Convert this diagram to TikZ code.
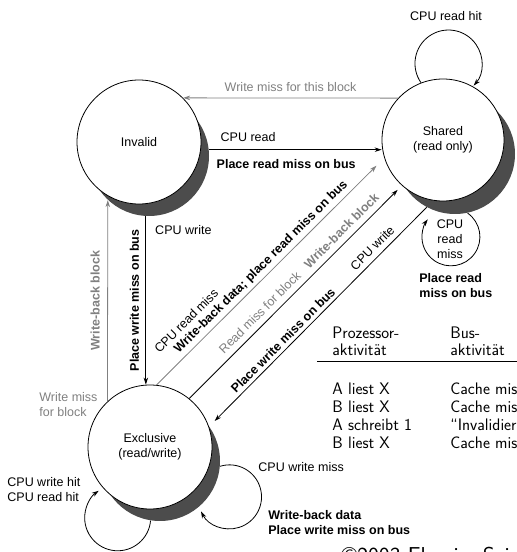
\documentclass[tikz,border=0pt]{standalone}
\usepackage{fontspec}
\newfontfamily\arial{Liberation Sans}
\usetikzlibrary{arrows.meta}

\begin{document}
\begin{tikzpicture}[x=1pt, y=1pt, line width=.8pt,
  lbl/.style={font=\arial\fontsize{12.5}{15}\selectfont},
  blbl/.style={font=\arial\fontsize{12.5}{15}\selectfont\bfseries},
  glbl/.style={lbl, text=black!50},
  gblbl/.style={blbl, text=black!50},
  state/.style={circle, draw, fill=white, inner sep=0pt, minimum size=124pt, align=center, lbl},
  shade/.style={circle, fill=black!70, inner sep=0pt, minimum size=120pt},
  arr/.style={-{Stealth[length=7pt,width=4.5pt]}},
  grayarr/.style={arr, draw=black!50},
  tab/.style={font=\sffamily\fontsize{16.7}{20}\selectfont, anchor=base west, inner sep=0pt}]
\useasboundingbox (0,0) rectangle (517,552);
\clip (0,0) rectangle (517,552);
% shadows
\node[shade] (invs) at (149,396) {};
\node[shade] (shrs) at (455,398) {};
\node[shade] (excs) at (160,91) {};
% states
\node[state] (inv) at (139,410) {Invalid};
\node[state, minimum size=122pt] (shr) at (443,412) {Shared\\(read only)};
\node[state] (exc) at (150,105) {Exclusive\\(read/write)};
% invalid <-> shared
\draw[grayarr] (shr.137) -- node[glbl, above, inner sep=6pt] (lwmt) {Write miss for this block} (inv.45);
\draw[arr] (invs.6) -- node[lbl, above right, inner xsep=0pt, inner ysep=8pt, pos=.065] (lcr) {CPU read}
  node[blbl, below right, inner xsep=0pt, inner ysep=9pt, pos=.042] (lprb) {Place read miss on bus} (invs.6 -| shr.west);
% invalid <-> exclusive
\draw[arr] (invs.-93) -- node[blbl, rotate=90, above, inner sep=6.5pt] (lpwv) {Place write miss on bus}
  node[lbl, right, inner xsep=9pt, pos=.08] (lcwv) {CPU write} (invs.-93 |- exc.north);
\draw[grayarr] (exc.133) -- node[gblbl, rotate=90, above, inner sep=7.5pt] (lwbv) {Write-back block} (invs.-133);
% exclusive <-> shared
\draw[grayarr, shorten >=11pt] (exc.84) -- node[blbl, sloped, above, pos=.489] (lwbd) {Write-back data; place read miss on bus}
  node[lbl, sloped, above, inner sep=19.5pt, pos=.206] (lcrd) {CPU read miss} (shr.197);
\draw[arr, shorten >=6pt] (exc.51) -- node[glbl, sloped, above, inner sep=6pt, pos=.368] (lrmb) {Read miss for block}
  node[gblbl, sloped, above, inner sep=6pt, pos=.752] (lwbb) {Write-back block} (shr.228);
\draw[arr, shorten >=8pt] (shrs.-118) -- node[lbl, sloped, above, inner sep=5pt, pos=.217] (lcwd) {CPU write}
  node[blbl, sloped, above, pos=.633] (lpwd) {Place write miss on bus} (exc.19);
% loops
\draw[arr] (shr.111) arc[start angle=214.9, end angle=-41.4, radius=33.5];
\draw[arr] (shrs.-78) arc[start angle=55, end angle=-217, radius=29];
\draw[arr] (excs.-99) arc[start angle=-5, end angle=-235, radius=33];
\draw[arr] (excs.-5) arc[start angle=107, end angle=-153, radius=32];
% loop labels
\node[lbl] (lrh) at (446,536) {CPU read hit};
\node[lbl, align=center] (lrm) at (450,313) {CPU\\read\\miss};
\node[blbl, align=left, anchor=west, inner xsep=0pt] (lprm) at (419,266.5) {Place read\\miss on bus};
\node[glbl, align=left, anchor=west, inner xsep=0pt] (lwmb) at (39,147.5) {Write miss\\for block};
\node[lbl, align=left, anchor=west, inner xsep=0pt] (lhit) at (7,62.5) {CPU write hit\\CPU read hit};
\node[lbl, anchor=west, inner xsep=0pt] (lwm) at (258,85) {CPU write miss};
\node[blbl, align=left, anchor=west, inner xsep=0pt] (lwbp) at (268,29) {Write-back data\\Place write miss on bus};
% table
\foreach \p/\b [count=\i] in {Prozessor-/Bus-, aktivität/aktivität}
  {\node[tab] (h\i) at (332,{230.9-17.2*\i}) {\p};
   \node[tab] (g\i) at (450,{230.9-17.2*\i}) {\b};}
\draw[line width=.9pt] (317,191) -- (520,191);
\foreach \p/\b [count=\i] in {A liest X/Cache miss, B liest X/Cache miss, A schreibt 1/“Invalidieren”, B liest X/Cache miss}
  {\node[tab] (p\i) at (332,{174.7-17.7*\i}) {\p};
   \node[tab] (b\i) at (450,{174.7-17.7*\i}) {\b};}
\node[tab, font=\sffamily\fontsize{23}{27}\selectfont] (cpr) at (341,-11.5) {©2003 Elsevier Science};
\end{tikzpicture}
\end{document}
